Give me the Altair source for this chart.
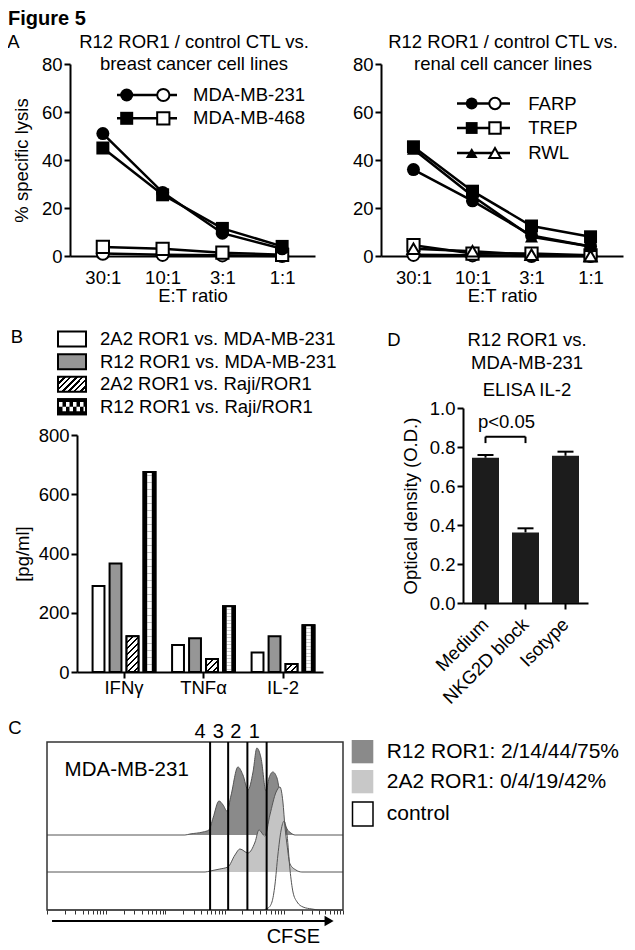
import math
import altair as alt
import pandas as pd

FONT = "Liberation Sans"
W, H = 619, 942
M = 8


def X(v):
    return v - M


def Y(v):
    return v - M


ONE = pd.DataFrame({"k": [0]})

# ---------------- data ----------------
ratios = ["30:1", "10:1", "3:1", "1:1"]

breast_lines = ["MDA-MB-231", "MDA-MB-468"]
breast_r12_231 = [51.0, 26.5, 9.5, 3.0]
breast_r12_468 = [45.0, 25.5, 11.5, 4.0]
breast_ctl_231 = [1.0, 0.5, 0.3, 0.0]
breast_ctl_468 = [3.8, 3.0, 1.4, 0.5]

renal_lines = ["FARP", "TREP", "RWL"]
renal_r12_farp = [36.0, 23.0, 8.5, 4.0]
renal_r12_trep = [45.5, 27.0, 12.5, 8.0]
renal_r12_rwl = [44.5, 25.0, 8.0, 4.0]
renal_ctl_farp = [0.5, 0.3, 0.0, 0.0]
renal_ctl_trep = [4.5, 1.0, 1.0, 0.3]
renal_ctl_rwl = [3.0, 2.0, 0.5, 0.0]

cytokines = ["IFNγ", "TNFα", "IL-2"]
conditions = ["2A2 ROR1 vs. MDA-MB-231", "R12 ROR1 vs. MDA-MB-231",
              "2A2 ROR1 vs. Raji/ROR1", "R12 ROR1 vs. Raji/ROR1"]
cyto_2a2_mda = [290, 91, 66]
cyto_r12_mda = [366, 114, 121]
cyto_2a2_raji = [121, 44, 27]
cyto_r12_raji = [675, 222, 158]

elisa_groups = ["Medium", "NKG2D block", "Isotype"]
elisa_od = [0.745, 0.362, 0.755]
elisa_sem = [0.014, 0.021, 0.021]

cfse_gates = [551, 612, 677, 742]
gate_labels = ["4", "3", "2", "1"]
gate_label_pos = [517, 579, 638, 700]

r12_ch = [0, 466, 483, 527, 547, 561, 581, 595, 608, 622, 645, 662, 679, 696, 709, 723,
          740, 750, 763, 777, 787, 797, 811, 824, 838, 1000]
r12_count = [0, 0, 1, 3, 5, 17, 34, 30, 24, 40, 68, 60, 45, 63, 87, 77,
             44, 57, 63, 57, 40, 18, 6, 2, 0, 0]
a2a2_ch = [0, 534, 551, 584, 611, 635, 652, 679, 703, 716, 736, 753, 774, 787, 797, 804,
           811, 821, 841, 861, 1000]
a2a2_count = [0, 0, 1, 3, 5, 17, 23, 19, 30, 42, 36, 57, 80, 85, 70, 45,
              27, 8, 2, 0, 0]
ctrl_ch = [0, 726, 747, 760, 770, 780, 791, 801, 811, 821, 831, 845, 865, 895, 922, 1000]
ctrl_count = [0, 0, 2, 8, 25, 55, 80, 89, 75, 40, 18, 8, 3, 1, 0, 0]
hist_names = ["R12 ROR1: 2/14/44/75%", "2A2 ROR1: 0/4/19/42%", "control"]


# ---------------- helpers ----------------
def axis(**kw):
    base = dict(domainColor="black", domainWidth=2, tickColor="black", tickWidth=2, tickSize=6,
                labelFont=FONT, labelFontSize=18.5, labelColor="black", labelPadding=2,
                titleFont=FONT, titleFontSize=18.5, titleColor="black", titleFontWeight="normal",
                grid=False)
    base.update(kw)
    return alt.Axis(**base)


def text(t, x, y, size=18.5, align="center", weight="normal", baseline="middle"):
    return alt.Chart(ONE).mark_text(text=t, font=FONT, fontSize=size, fontWeight=weight,
                                    align=align, baseline=baseline, color="black").encode(
        x=alt.value(X(x)), y=alt.value(Y(y)))


def sym(x, y, shape, filled, size):
    if filled:
        m = alt.Chart(ONE).mark_point(shape=shape, filled=True, color="black", size=size, opacity=1)
    else:
        m = alt.Chart(ONE).mark_point(shape=shape, filled=True, fill="white", stroke="black",
                                      strokeWidth=2, size=size, opacity=1)
    return m.encode(x=alt.value(X(x)), y=alt.value(Y(y)))


def hline(x1, x2, y, color="black", width=2.5, dash=None, dashoff=0):
    kw = dict(color=color, strokeWidth=width)
    if dash:
        kw.update(strokeDash=dash, strokeDashOffset=dashoff)
    return alt.Chart(ONE).mark_rule(**kw).encode(x=alt.value(X(x1)), x2=alt.value(X(x2)),
                                                 y=alt.value(Y(y)))


def box(x1, x2, y1, y2, fill, sw=2, fill_opacity=1):
    return alt.Chart(ONE).mark_rect(fill=fill, stroke="black", strokeWidth=sw,
                                    fillOpacity=fill_opacity).encode(
        x=alt.value(X(x1)), x2=alt.value(X(x2)), y=alt.value(Y(y1)), y2=alt.value(Y(y2)))


def hatch(w, h, period=6.0, line=2.2):
    L = w + h
    a = w * L / (w * w + h * h)
    b = h * L / (w * w + h * h)
    stops = []
    k = 0
    while k * period < L:
        s = k * period / L
        e = min((k * period + line) / L, 1.0)
        n = min((k + 1) * period / L, 1.0)
        stops += [(s, "black"), (e, "black"), (e, "white"), (n, "white")]
        k += 1
    return alt.LinearGradient(gradient="linear",
                              stops=[alt.GradientStop(offset=round(o, 4), color=c) for o, c in stops],
                              x1=0, y1=0, x2=round(a, 4), y2=round(b, 4))


layers = []

# ---------------- Panel A ----------------
def lysis_panel(series, shapes, x0, x1, ytitle):
    rows = []
    for name, r12, ctl in series:
        for i, r in enumerate(ratios):
            rows.append(dict(ratio=r, idx=i, line=name, kind="R12", key=name + " R12", value=r12[i]))
            rows.append(dict(ratio=r, idx=i, line=name, kind="ctl", key=name + " ctl", value=ctl[i]))
    df = pd.DataFrame(rows)
    xs = alt.Scale(type="point", domain=ratios, range=[X(x0), X(x1)], padding=0.55)
    ys = alt.Scale(domain=[0, 80], range=[Y(256), Y(64)], nice=False, zero=False)
    names = [s[0] for s in series]
    shp = alt.Scale(domain=names, range=shapes)
    xaxis = axis(orient="bottom", offset=Y(256) - H, ticks=False, tickSize=0, labelPadding=12,
                 labelAngle=0, title="E:T ratio", titlePadding=0)
    yaxis = axis(orient="left", offset=-X(x0), values=[0, 20, 40, 60, 80], title=ytitle,
                 titlePadding=10)
    out = [alt.Chart(df).mark_line(color="black", strokeWidth=2.5).encode(
        x=alt.X("ratio:O", scale=xs, axis=xaxis),
        y=alt.Y("value:Q", scale=ys, axis=yaxis),
        detail="key:N", order="idx:Q")]
    out.append(alt.Chart(df).transform_filter(alt.datum.kind == "ctl").mark_point(
        filled=True, fill="white", stroke="black", strokeWidth=2, size=150, opacity=1).encode(
        x=alt.X("ratio:O", scale=xs, axis=None), y=alt.Y("value:Q", scale=ys, axis=None),
        shape=alt.Shape("line:N", scale=shp, legend=None)))
    out.append(alt.Chart(df).transform_filter(alt.datum.kind == "R12").mark_point(
        filled=True, color="black", size=169, opacity=1).encode(
        x=alt.X("ratio:O", scale=xs, axis=None), y=alt.Y("value:Q", scale=ys, axis=None),
        shape=alt.Shape("line:N", scale=shp, legend=None)))
    return out


layers += lysis_panel([("MDA-MB-231", breast_r12_231, breast_ctl_231),
                       ("MDA-MB-468", breast_r12_468, breast_ctl_468)],
                      ["circle", "square"], 70, 315, "% specific lysis")
layers += lysis_panel([("FARP", renal_r12_farp, renal_ctl_farp),
                       ("TREP", renal_r12_trep, renal_ctl_trep),
                       ("RWL", renal_r12_rwl, renal_ctl_rwl)],
                      ["circle", "square", "triangle-up"], 381, 623, None)

# legends A
for name, shape, yy in zip(breast_lines, ["circle", "square"], [95, 118.3]):
    layers += [hline(117, 177, yy), sym(126.7, yy, shape, True, 169),
               sym(163.3, yy, shape, False, 150), text(name, 193, yy, align="left")]
for name, shape, yy in zip(renal_lines, ["circle", "square", "triangle-up"], [103.5, 128, 153]):
    layers += [hline(457, 510, yy), sym(471.7, yy, shape, True, 140),
               sym(495, yy, shape, False, 130), text(name, 528.3, yy, align="left")]

layers += [text("Figure 5", 8, 9, size=20, align="left", weight="bold", baseline="top"),
           text("A", 13.5, 42),
           text("R12 ROR1 / control CTL vs.", 194, 42),
           text("breast cancer cell lines", 194, 63.5),
           text("R12 ROR1 / control CTL vs.", 503, 42),
           text("renal cell cancer lines", 503, 63.5)]

# ---------------- Panel B ----------------
brows = []
for c, vals in zip(conditions, [cyto_2a2_mda, cyto_r12_mda, cyto_2a2_raji, cyto_r12_raji]):
    for cy, v in zip(cytokines, vals):
        brows.append(dict(cytokine=cy, cond=c, value=v, zero=0))
bdf = pd.DataFrame(brows)
B_X0, B_X1, B_Y0, B_Y1 = 77, 323, 672, 435
g_pi, g_po, o_pi, o_po = 0.0, 0.047, 0.3, 0.49
bx = alt.Scale(type="band", domain=cytokines, range=[X(B_X0), X(B_X1)],
               paddingInner=g_pi, paddingOuter=g_po, align=0.97)
bxo = alt.Scale(type="band", domain=conditions, paddingInner=o_pi, paddingOuter=o_po)
by = alt.Scale(domain=[0, 800], range=[Y(B_Y0), Y(B_Y1)], nice=False, zero=False)
g_step = (B_X1 - B_X0) / (3 - g_pi + 2 * g_po)
o_step = g_step / (4 - o_pi + 2 * o_po)
bar_w = o_step * (1 - o_pi)
ppu = (B_Y0 - B_Y1) / 800.0

layers.append(alt.Chart(bdf).mark_bar(stroke="black", strokeWidth=2).encode(
    x=alt.X("cytokine:N", scale=bx,
            axis=axis(orient="bottom", offset=Y(B_Y0) - H, labelAngle=0, labelPadding=0, title=None)),
    xOffset=alt.XOffset("cond:N", scale=bxo),
    y=alt.Y("value:Q", scale=by,
            axis=axis(orient="left", offset=-X(B_X0), values=[0, 200, 400, 600, 800],
                      title="[pg/ml]", titlePadding=6)),
    fill=alt.Fill("cond:N", scale=alt.Scale(domain=conditions,
                                             range=["white", "#969696", "white", "black"]),
                  legend=None)))
for cy, v in zip(cytokines, cyto_2a2_raji):
    layers.append(alt.Chart(bdf).transform_filter(
        (alt.datum.cond == conditions[2]) & (alt.datum.cytokine == cy)).mark_bar(
        fill=hatch(bar_w, v * ppu), stroke="black", strokeWidth=2).encode(
        x=alt.X("cytokine:N", scale=bx, axis=None),
        xOffset=alt.XOffset("cond:N", scale=bxo),
        y=alt.Y("value:Q", scale=by, axis=None)))
for bp, off in [(0.5 - 2.3 / bar_w, 0), (0.5 + 2.3 / bar_w, 3.5)]:
    layers.append(alt.Chart(bdf).transform_filter(alt.datum.cond == conditions[3]).mark_rule(
        color="white", strokeWidth=4.6, strokeDash=[3.5, 3.5], strokeDashOffset=off).encode(
        x=alt.X("cytokine:N", scale=bx, axis=None),
        xOffset=alt.XOffset("cond:N", scale=bxo, bandPosition=bp),
        y=alt.Y("value:Q", scale=by, axis=None), y2="zero:Q"))
layers.append(alt.Chart(bdf).transform_filter(alt.datum.cond == conditions[3]).mark_bar(
    fill="black", fillOpacity=0, stroke="black", strokeWidth=2).encode(
    x=alt.X("cytokine:N", scale=bx, axis=None),
    xOffset=alt.XOffset("cond:N", scale=bxo),
    y=alt.Y("value:Q", scale=by, axis=None)))

# legend B
leg_rows = [339, 361.7, 384.3, 406.7]
layers += [box(58, 86, leg_rows[0] - 7.5, leg_rows[0] + 7.5, "white"),
           box(58, 86, leg_rows[1] - 7.5, leg_rows[1] + 7.5, "#969696"),
           box(58, 86, leg_rows[2] - 7.5, leg_rows[2] + 7.5, hatch(28, 15)),
           box(58, 86, leg_rows[3] - 7.5, leg_rows[3] + 7.5, "black"),
           hline(59, 85, leg_rows[3] - 2.3, color="white", width=4.6, dash=[3.5, 3.5], dashoff=0),
           hline(59, 85, leg_rows[3] + 2.3, color="white", width=4.6, dash=[3.5, 3.5], dashoff=3.5),
           box(58, 86, leg_rows[3] - 7.5, leg_rows[3] + 7.5, "black", fill_opacity=0)]
for c, yy in zip(conditions, leg_rows):
    layers.append(text(c, 100, yy, align="left"))
layers.append(text("B", 17, 337))

# ---------------- Panel D ----------------
D_X0, D_X1, D_Y0, D_Y1 = 463, 588, 603, 408
ddf = pd.DataFrame({"g": elisa_groups, "od": elisa_od,
                    "hi": [v + e for v, e in zip(elisa_od, elisa_sem)]})
dx = alt.Scale(type="band", domain=elisa_groups, range=[X(D_X0), X(D_X1)],
               paddingInner=0.325, paddingOuter=0.225)
dy = alt.Scale(domain=[0, 1], range=[Y(D_Y0), Y(D_Y1)], nice=False, zero=False)
layers.append(alt.Chart(ddf).mark_bar(color="#1c1c1c").encode(
    x=alt.X("g:N", scale=dx,
            axis=axis(orient="bottom", offset=Y(D_Y0) - H, labelAngle=315, labelAlign="right",
                      labelBaseline="middle", labelPadding=12, title=None)),
    y=alt.Y("od:Q", scale=dy,
            axis=axis(orient="left", offset=-X(D_X0), values=[0, 0.2, 0.4, 0.6, 0.8, 1.0],
                      format=".1f", title="Optical density (O.D.)", titlePadding=9))))
layers.append(alt.Chart(ddf).mark_rule(color="black", strokeWidth=2).encode(
    x=alt.X("g:N", scale=dx, axis=None), y=alt.Y("od:Q", scale=dy, axis=None), y2="hi:Q"))
layers.append(alt.Chart(ddf).mark_tick(color="black", thickness=2, size=16, opacity=1).encode(
    x=alt.X("g:N", scale=dx, axis=None), y=alt.Y("hi:Q", scale=dy, axis=None)))
bracket_h = pd.DataFrame({"g1": ["Medium"], "g2": ["NKG2D block"], "y": [0.853]})
bracket_v = pd.DataFrame({"g": ["Medium", "NKG2D block"], "y": [0.82, 0.82], "y2": [0.853, 0.853]})
layers.append(alt.Chart(bracket_h).mark_rule(color="black", strokeWidth=2).encode(
    x=alt.X("g1:N", scale=dx, axis=None), x2="g2:N", y=alt.Y("y:Q", scale=dy, axis=None)))
layers.append(alt.Chart(bracket_v).mark_rule(color="black", strokeWidth=2).encode(
    x=alt.X("g:N", scale=dx, axis=None), y=alt.Y("y:Q", scale=dy, axis=None), y2="y2:Q"))
layers.append(alt.Chart(pd.DataFrame({"g": ["Medium"], "y": [0.93], "t": ["p<0.05"]})).mark_text(
    font=FONT, fontSize=18.5, color="black", dx=21, baseline="middle").encode(
    x=alt.X("g:N", scale=dx, axis=None), y=alt.Y("y:Q", scale=dy, axis=None), text="t:N"))
layers += [text("D", 394, 340),
           text("R12 ROR1 vs.", 527, 340),
           text("MDA-MB-231", 527, 363),
           text("ELISA IL-2", 527, 390)]

# ---------------- Panel C ----------------
C_X0, C_X1, C_Y0, C_Y1 = 47, 343, 910, 742
cx = alt.Scale(domain=[0, 1000], range=[X(C_X0), X(C_X1)], nice=False, zero=False)
cy = alt.Scale(domain=[0, 168], range=[Y(C_Y0), Y(C_Y1)], nice=False, zero=False)
c_ticks = sorted({round(200 * d + 200 * math.log10(k), 1) for d in range(5) for k in range(1, 10)} | {1000.0})

hist_sets = [(r12_ch, r12_count, 75, "#8a8a8a"), (a2a2_ch, a2a2_count, 38, "#c4c4c4"),
             (ctrl_ch, ctrl_count, 0, None)]
for chs, cnts, base, col in hist_sets:
    hdf = pd.DataFrame({"ch": chs, "top": [base + c for c in cnts], "base": [base] * len(chs)})
    if col:
        layers.append(alt.Chart(hdf).mark_area(color=col, interpolate="monotone").encode(
            x=alt.X("ch:Q", scale=cx, axis=None), y=alt.Y("top:Q", scale=cy, axis=None),
            y2="base:Q"))
    layers.append(alt.Chart(hdf).mark_line(color="#555555", strokeWidth=1,
                                           interpolate="monotone").encode(
        x=alt.X("ch:Q", scale=cx, axis=None), y=alt.Y("top:Q", scale=cy, axis=None)))

frame = pd.DataFrame({"x0": [0], "x1": [1000], "y0": [0], "y1": [168]})
layers.append(alt.Chart(frame).mark_rect(fill="white", fillOpacity=0, stroke="#333333",
                                         strokeWidth=1.5).encode(
    x=alt.X("x0:Q", scale=cx,
            axis=axis(orient="bottom", offset=Y(C_Y0) - H, values=c_ticks, labels=False,
                      domain=False, tickSize=4, tickWidth=1, tickColor="#333333", title=None)),
    x2="x1:Q", y=alt.Y("y0:Q", scale=cy, axis=None), y2="y1:Q"))
gdf = pd.DataFrame({"ch": cfse_gates, "y0": [0] * 4, "y1": [168] * 4})
layers.append(alt.Chart(gdf).mark_rule(color="black", strokeWidth=2).encode(
    x=alt.X("ch:Q", scale=cx, axis=None), y=alt.Y("y0:Q", scale=cy, axis=None), y2="y1:Q"))
gl = pd.DataFrame({"ch": gate_label_pos, "t": gate_labels})
layers.append(alt.Chart(gl).mark_text(font=FONT, fontSize=20, color="black", baseline="middle").encode(
    x=alt.X("ch:Q", scale=cx, axis=None), y=alt.value(Y(731.7)), text="t:N"))
arrow = pd.DataFrame({"x0": [17], "x1": [940], "y": [-11]})
layers.append(alt.Chart(arrow).mark_rule(color="black", strokeWidth=2).encode(
    x=alt.X("x0:Q", scale=cx, axis=None), x2="x1:Q", y=alt.Y("y:Q", scale=cy, axis=None)))
head = pd.DataFrame({"x": [953], "y": [-11]})
layers.append(alt.Chart(head).mark_point(shape="triangle-right", filled=True, color="black",
                                         size=110, opacity=1).encode(
    x=alt.X("x:Q", scale=cx, axis=None), y=alt.Y("y:Q", scale=cy, axis=None)))
layers += [text("C", 15, 728),
           text("MDA-MB-231", 126.7, 770, size=20.5),
           text("CFSE", 293.3, 937, size=20)]
# legend C
for name, col, (y1, y2) in zip(hist_names, ["#8a8a8a", "#c8c8c8", "white"],
                               [(740, 763.3), (770, 793.3), (802, 826)]):
    if col == "white":
        layers.append(box(352.5, 373, y1, y2, col, sw=1.5))
    else:
        layers.append(alt.Chart(ONE).mark_rect(fill=col).encode(
            x=alt.value(X(351.7)), x2=alt.value(X(373.3)), y=alt.value(Y(y1)), y2=alt.value(Y(y2))))
    layers.append(text(name, 386.7, (y1 + y2) / 2, size=21, align="left"))

chart = alt.layer(*layers).resolve_scale(
    x="independent", y="independent", xOffset="independent", fill="independent",
    shape="independent").resolve_axis(x="independent", y="independent").properties(
    width=W, height=H, autosize=alt.AutoSizeParams(type="none"), padding=0,
    background="white").configure_view(stroke=None)

chart.save("out.html", embed_options={"renderer": "svg", "actions": False})
